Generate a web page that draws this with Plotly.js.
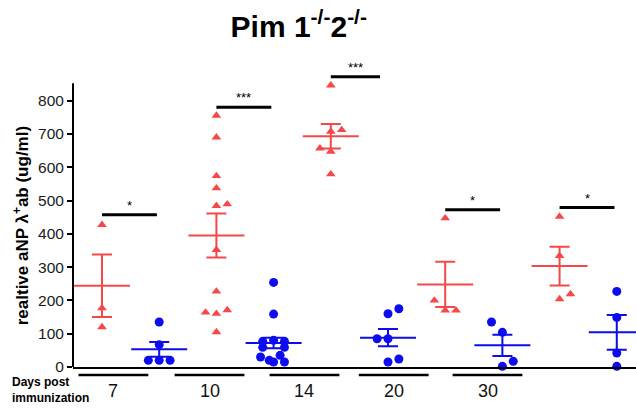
<!DOCTYPE html>
<html><head><meta charset="utf-8">
<script src="https://cdn.plot.ly/plotly-3.0.1.min.js"></script>
<style>html,body{margin:0;padding:0;background:#fff}#chart{width:636px;height:408px}</style>
</head><body><div id="chart"></div>
<script>
// ---- data ----
const days = ['7', '10', '14', '20', '30'];

// red triangles (one list per day)
const redDay7  = [427, 177, 120];
const redDay10 = [755, 690, 574, 537, 484, 489, 352, 227, 164, 160, 171, 105];
const redDay14 = [846, 707, 712, 657, 647, 579];
const redDay20 = [447, 200, 170, 170];
const redDay30 = [452, 334, 204, 219];
// horizontal jitter slot of each red point
const redJit7  = [0, 0, 0];
const redJit10 = [0, 0, 0, 0, 0, 1, 0, 0, -1, 0, 1, 0];
const redJit14 = [0, 0, 1, -1, 0, 0];
const redJit20 = [0, -1, 0, 1];
const redJit30 = [0, 0, 0, 1];

// blue circles
const blueDay7  = [135, 67, 20, 20, 20];
const blueDay10 = [254, 159, 77, 80, 77, 59, 59, 30, 35, 15, 15, 20];
const blueDay14 = [160, 175, 85, 85, 15, 24];
const blueDay20 = [135, 104, 17, 2];
const blueDay30 = [227, 149, 42, 2];
const blueJit7  = [0, 0, -1, 0, 1];
const blueJit10 = [0, 0, -1, 0, 1, -1, 1, -1.2, 0.6, 0, 1, -0.4];
const blueJit14 = [0, 1, -1, 0, 0, 1];
const blueJit20 = [-1, 0, 1, 0];
const blueJit30 = [0, 0, 0, 0];

// mean and SEM as drawn
const redMean  = [244, 395, 693, 248, 303];
const redSem   = [94, 66, 37, 68, 58];
const blueMean = [53, 72, 88, 65, 104];
const blueSem  = [22, 16, 26, 32, 52];

// significance brackets
const sigLevel = [457, 780, 872, 472, 479];
const sigText  = ['*', '***', '***', '*', '*'];

// ---- build ----
const redSets  = [redDay7, redDay10, redDay14, redDay20, redDay30];
const redJits  = [redJit7, redJit10, redJit14, redJit20, redJit30];
const blueSets = [blueDay7, blueDay10, blueDay14, blueDay20, blueDay30];
const blueJits = [blueJit7, blueJit10, blueJit14, blueJit20, blueJit30];
const SPREAD = 0.19;
const RED = 'rgb(246,72,72)';
const BLUE = 'rgb(12,12,238)';
const FONT = 'Liberation Sans, Arial';

function flatten(sets, jits, offset) {
  const xs = [], ys = [];
  sets.forEach((vals, g) => vals.forEach((v, i) => {
    xs.push(2 * g + offset + jits[g][i] * SPREAD);
    ys.push(v);
  }));
  return {xs, ys};
}
const r = flatten(redSets, redJits, 0);
const b = flatten(blueSets, blueJits, 1);
const redX = days.map((d, g) => 2 * g);
const blueX = days.map((d, g) => 2 * g + 1);

const traces = [
  {x: r.xs, y: r.ys, type: 'scatter', mode: 'markers', cliponaxis: false,
   marker: {symbol: 'triangle-up', size: 8.5, color: RED}, hoverinfo: 'skip'},
  {x: b.xs, y: b.ys, type: 'scatter', mode: 'markers', cliponaxis: false,
   marker: {symbol: 'circle', size: 9, color: BLUE}, hoverinfo: 'skip'},
  {x: redX, y: redMean, type: 'scatter', mode: 'markers', cliponaxis: false,
   marker: {symbol: 'line-ew', size: 40, color: RED, line: {color: RED, width: 2}},
   error_y: {type: 'data', array: redSem, visible: true, color: RED, thickness: 2, width: 10},
   hoverinfo: 'skip'},
  {x: blueX, y: blueMean, type: 'scatter', mode: 'markers', cliponaxis: false,
   marker: {symbol: 'line-ew', size: 40, color: BLUE, line: {color: BLUE, width: 2}},
   error_y: {type: 'data', array: blueSem, visible: true, color: BLUE, thickness: 2, width: 10},
   hoverinfo: 'skip'}
];

const shapes = [];
const annotations = [];
// y axis line only up to 852
shapes.push({type: 'line', xref: 'paper', yref: 'y', x0: 0, x1: 0, y0: 0, y1: 852,
  line: {color: '#000', width: 2}});
// significance brackets
days.forEach((d, g) => {
  shapes.push({type: 'line', xref: 'x', yref: 'y', x0: 2 * g, x1: 2 * g + 1 - (g === 2 ? 0.14 : 0.04),
    y0: sigLevel[g], y1: sigLevel[g], line: {color: '#000', width: 3}});
  annotations.push({text: sigText[g], xref: 'x', yref: 'y', x: 2 * g + 0.5 - (g === 2 ? 0.07 : 0.02),
    y: sigLevel[g], yanchor: 'bottom', yshift: 0, showarrow: false,
    font: {family: FONT, size: 13, color: '#000'}});
});
// day labels under the axis with their underline bars
const labelCentre = [0.2, 1.88, 3.54, 5.1, 6.74];
days.forEach((d, g) => {
  shapes.push({type: 'line', xref: 'x', yref: 'paper', x0: labelCentre[g] - 0.61, x1: labelCentre[g] + 0.61,
    y0: -0.027, y1: -0.027, line: {color: '#000', width: 2.5}});
  annotations.push({text: d, xref: 'x', yref: 'paper', x: labelCentre[g], y: -0.083,
    xanchor: 'center', yanchor: 'middle', showarrow: false,
    font: {family: FONT, size: 18, color: '#111'}});
});
annotations.push({text: '<b>Days post<br>immunization</b>', xref: 'paper', yref: 'paper',
  x: -0.112, y: -0.08, xanchor: 'left', yanchor: 'middle', align: 'left', showarrow: false,
  font: {family: FONT, size: 12, color: '#000'}});
// y axis title
annotations.push({text: '<b>realtive aNP λ<sup>+</sup>ab (ug/ml)</b>', xref: 'paper', yref: 'paper',
  x: -0.092, y: 0.481, xanchor: 'center', yanchor: 'middle', textangle: -90, showarrow: false,
  font: {family: FONT, size: 17, color: '#000'}});

const layout = {
  width: 636, height: 408,
  margin: {l: 73, r: 0, t: 74, b: 41, pad: 0},
  paper_bgcolor: '#fff', plot_bgcolor: '#fff',
  showlegend: false,
  font: {family: FONT, color: '#000'},
  title: {text: '<b>Pim 1<sup>-/-</sup>2<sup>-/-</sup></b>', xref: 'paper', x: 0.401, xanchor: 'center',
    yref: 'container', y: 0.935, yanchor: 'middle',
    font: {family: FONT, size: 30, color: '#000'}},
  xaxis: {range: [-0.507, 9.336], showgrid: false, zeroline: false, showticklabels: false,
    ticks: '', showline: true, linecolor: '#000', linewidth: 2, fixedrange: true},
  yaxis: {range: [0, 880], showgrid: false, zeroline: false, showline: false,
    tickmode: 'array', tickvals: [0, 100, 200, 300, 400, 500, 600, 700, 800],
    ticks: 'outside', ticklen: 5, tickwidth: 2, tickcolor: '#000',
    tickfont: {family: FONT, size: 15.5, color: '#1a1a1a'},
    automargin: false},
  shapes: shapes,
  annotations: annotations
};

Plotly.newPlot('chart', traces, layout, {staticPlot: true, displayModeBar: false});
</script>
</body></html>
